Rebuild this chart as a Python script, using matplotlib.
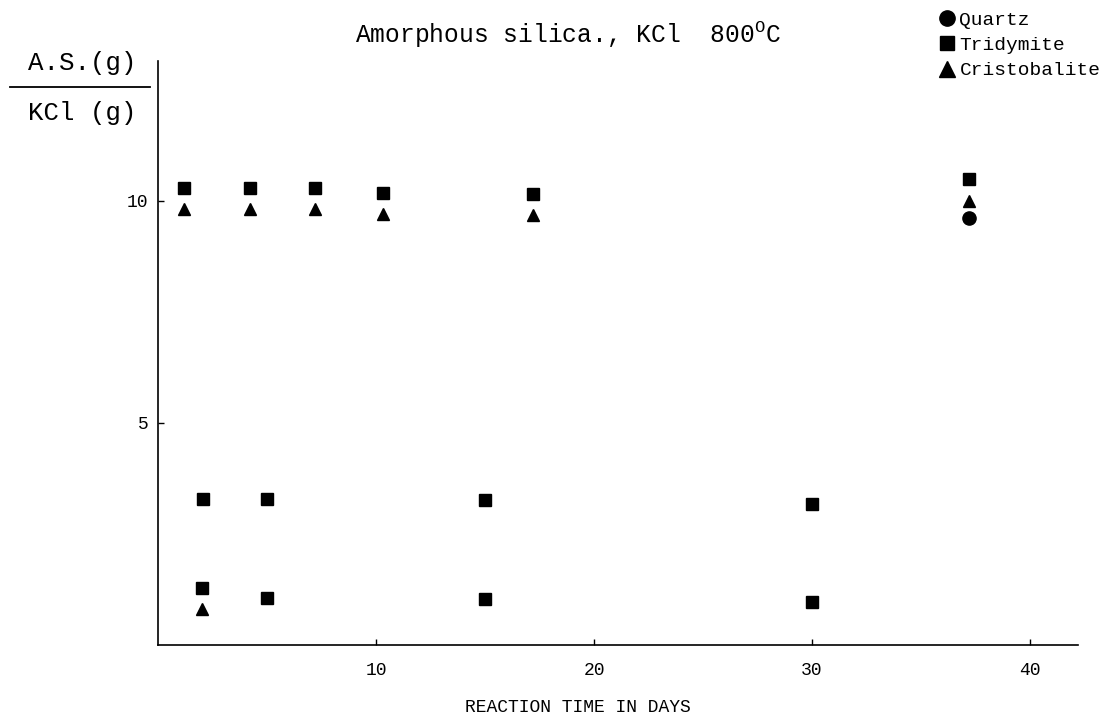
import matplotlib
matplotlib.use("Agg")
import matplotlib.pyplot as plt
from matplotlib.lines import Line2D

# Data
tridymite_x = [1.2, 4.2, 7.2, 10.3, 17.2, 37.2, 2.05, 5.0, 15.0, 30.0, 2.0, 5.0, 15.0, 30.0]
tridymite_y = [10.28, 10.28, 10.28, 10.17, 10.15, 10.49, 3.28, 3.28, 3.26, 3.18, 1.28, 1.05, 1.03, 0.97]
cristobalite_x = [1.2, 4.2, 7.2, 10.3, 17.2, 37.2, 2.0]
cristobalite_y = [9.82, 9.82, 9.82, 9.71, 9.68, 10.0, 0.80]
quartz_x = [37.2]
quartz_y = [9.62]
x_ticks = [10, 20, 30, 40]
y_ticks = [5, 10]
legend_labels = ["Quartz", "Tridymite", "Cristobalite"]

plt.rcParams['font.family'] = ['Liberation Mono', 'DejaVu Sans']
plt.rcParams['mathtext.fontset'] = 'custom'
plt.rcParams['mathtext.rm'] = 'Liberation Mono'

W, H = 1119, 717
fig = plt.figure(figsize=(W / 100, H / 100), dpi=100)
x0, x1, y0, y1 = 158, 1078, 645, 61
ax = fig.add_axes([x0 / W, 1 - y0 / H, (x1 - x0) / W, (y0 - y1) / H])
ax.set_xlim(0, 42.2)
ax.set_ylim(0, 13.15)

ax.plot(tridymite_x, tridymite_y, ls='none', marker='s', ms=8.5, color='black')
ax.plot(cristobalite_x, cristobalite_y, ls='none', marker='^', ms=9, color='black')
ax.plot(quartz_x, quartz_y, ls='none', marker='o', ms=9.5, color='black')

for s in ['top', 'right']:
    ax.spines[s].set_visible(False)
for s in ['left', 'bottom']:
    ax.spines[s].set_linewidth(1.2)
ax.set_xticks(x_ticks)
ax.set_yticks(y_ticks)
ax.tick_params(direction='in', length=4, width=1, labelsize=13)
ax.tick_params(axis='x', pad=12)
ax.tick_params(axis='y', pad=7)

fig.text(578 / W, 1 - 707 / H, "REACTION TIME IN DAYS", fontsize=13, ha='center', va='center')

fig.text(568 / W, 1 - 35 / H, r"Amorphous silica., KCl  800$^{\mathrm{O}}$C",
         fontsize=17.7, ha='center', va='center')

# y label as a fraction
fig.text(82 / W, 1 - 63 / H, "A.S.(g)", fontsize=18.5, ha='center', va='center')
fig.text(82 / W, 1 - 113 / H, "KCl (g)", fontsize=18.5, ha='center', va='center')
fig.add_artist(Line2D([10 / W, 150 / W], [1 - 87 / H, 1 - 87 / H], color='black', lw=1.3))

handles = [
    Line2D([], [], ls='none', marker='o', ms=11, color='black'),
    Line2D([], [], ls='none', marker='s', ms=10, color='black'),
    Line2D([], [], ls='none', marker='^', ms=11, color='black'),
]
fig.legend(handles, legend_labels, loc='upper left', bbox_to_anchor=(939 / W, 1 - 11 / H),
           frameon=False, fontsize=14, handlelength=0.8, handletextpad=0.25,
           labelspacing=0.4, borderpad=0, borderaxespad=0)

fig.savefig("out.png", dpi=100)
